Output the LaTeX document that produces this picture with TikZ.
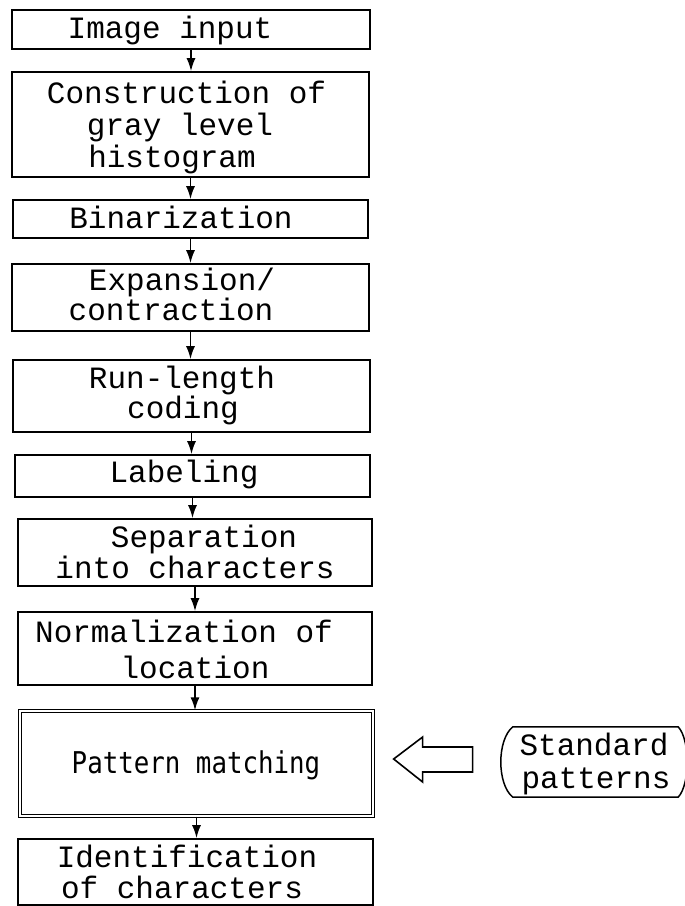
\documentclass[tikz,border=0pt]{standalone}
\usepackage{fontspec}
\usetikzlibrary{arrows.meta,calc}
\newfontfamily\twfont{Liberation Mono}
\newfontfamily\pmfont[FakeStretch=0.86]{DejaVu Sans Mono}
\begin{document}
\begin{tikzpicture}[x=1pt,y=-1pt,
  box/.style={draw, line width=1.6pt, rectangle, inner sep=0pt},
  dbox/.style={draw, line width=1.3pt, double, double distance=2.2pt, rectangle, inner sep=0pt},
  txt/.style={font=\twfont\fontsize{31}{33}\selectfont, inner sep=0pt, anchor=base},
  pmtxt/.style={font=\pmfont\fontsize{30}{32}\selectfont, inner sep=0pt, anchor=base},
  arr/.style={line width=1.8pt, -{Latex[length=13pt,width=9pt]}},
  hollow/.style={draw, line width=1.6pt, fill=white, line join=miter}]
\useasboundingbox (0,0) rectangle (685,906);
\clip (0,0) rectangle (685,906);

% process boxes
\node[box, minimum width=358pt, minimum height=39pt]  (inp)   at (191,29.5)  {};
\node[box, minimum width=357pt, minimum height=105pt] (hist)  at (190.5,124.5) {};
\node[box, minimum width=355pt, minimum height=38pt]  (bin)   at (190.5,219) {};
\node[box, minimum width=357pt, minimum height=67pt]  (exp)   at (190.5,297.5) {};
\node[box, minimum width=357pt, minimum height=72pt]  (rl)    at (191.5,396) {};
\node[box, minimum width=355pt, minimum height=42pt]  (lab)   at (192.5,476) {};
\node[box, minimum width=354pt, minimum height=67pt]  (sep)   at (195,552.5) {};
\node[box, minimum width=354pt, minimum height=73pt]  (norm)  at (195,648.5) {};
\node[dbox, minimum width=353pt, minimum height=105pt] (pm)   at (196.5,763.5) {};
\node[box, minimum width=355pt, minimum height=66pt]  (ident) at (195.5,872) {};

% box texts
\node[txt] (inp-t)    at (170,38)    {Image input};
\node[txt] (hist-t1)  at (186.5,103) {Construction of};
\node[txt] (hist-t2)  at (180,135)   {gray level};
\node[txt] (hist-t3)  at (172,167)   {histogram};
\node[txt] (bin-t)    at (181,228)   {Binarization};
\node[txt] (exp-t1)   at (182,290)   {Expansion/};
\node[txt] (exp-t2)   at (171,320)   {contraction};
\node[txt] (rl-t1)    at (182,388)   {Run-length};
\node[txt] (rl-t2)    at (183,418)   {coding};
\node[txt] (lab-t)    at (184,482)   {Labeling};
\node[txt] (sep-t1)   at (204,547)   {Separation};
\node[txt] (sep-t2)   at (195,578)   {into characters};
\node[txt] (norm-t1)  at (184,642)   {Normalization of};
\node[txt] (norm-t2)  at (195,678)   {location};
\node[pmtxt] (pm-t)   at (196,773)   {Pattern matching};
\node[txt] (ident-t1) at (187,867)   {Identification};
\node[txt] (ident-t2) at (182,898)   {of characters};

% flow arrows
\foreach \a/\b in {inp/hist,hist/bin,bin/exp,exp/rl,rl/lab,lab/sep,sep/norm,norm/pm,pm/ident}
  \draw[arr] (\a.south) -- (\a.south |- \b.north);

% standard patterns store
\node[minimum width=165pt, minimum height=70pt, inner sep=0pt] (std) at (595.5,762) {};
\draw[line width=1.5pt] (std.north west) -- (std.north east)
  .. controls ($(std.north east)+(12,13)$) and ($(std.south east)+(12,-13)$) .. (std.south east)
  -- (std.south west)
  .. controls ($(std.south west)+(-16,-13)$) and ($(std.north west)+(-16,13)$) .. cycle;
\node[txt] (std-t1) at (594,755) {Standard};
\node[txt] (std-t2) at (596,788) {patterns};

% hollow arrow into pattern matching
\coordinate (tip) at ($(pm.east)+(20,-4.5)$);
\draw[hollow] (tip) -- ++(29,-22) -- ++(0,10) -- ++(50,0) -- ++(0,25)
  -- ++(-50,0) -- ++(0,10) -- cycle;
\end{tikzpicture}
\end{document}
